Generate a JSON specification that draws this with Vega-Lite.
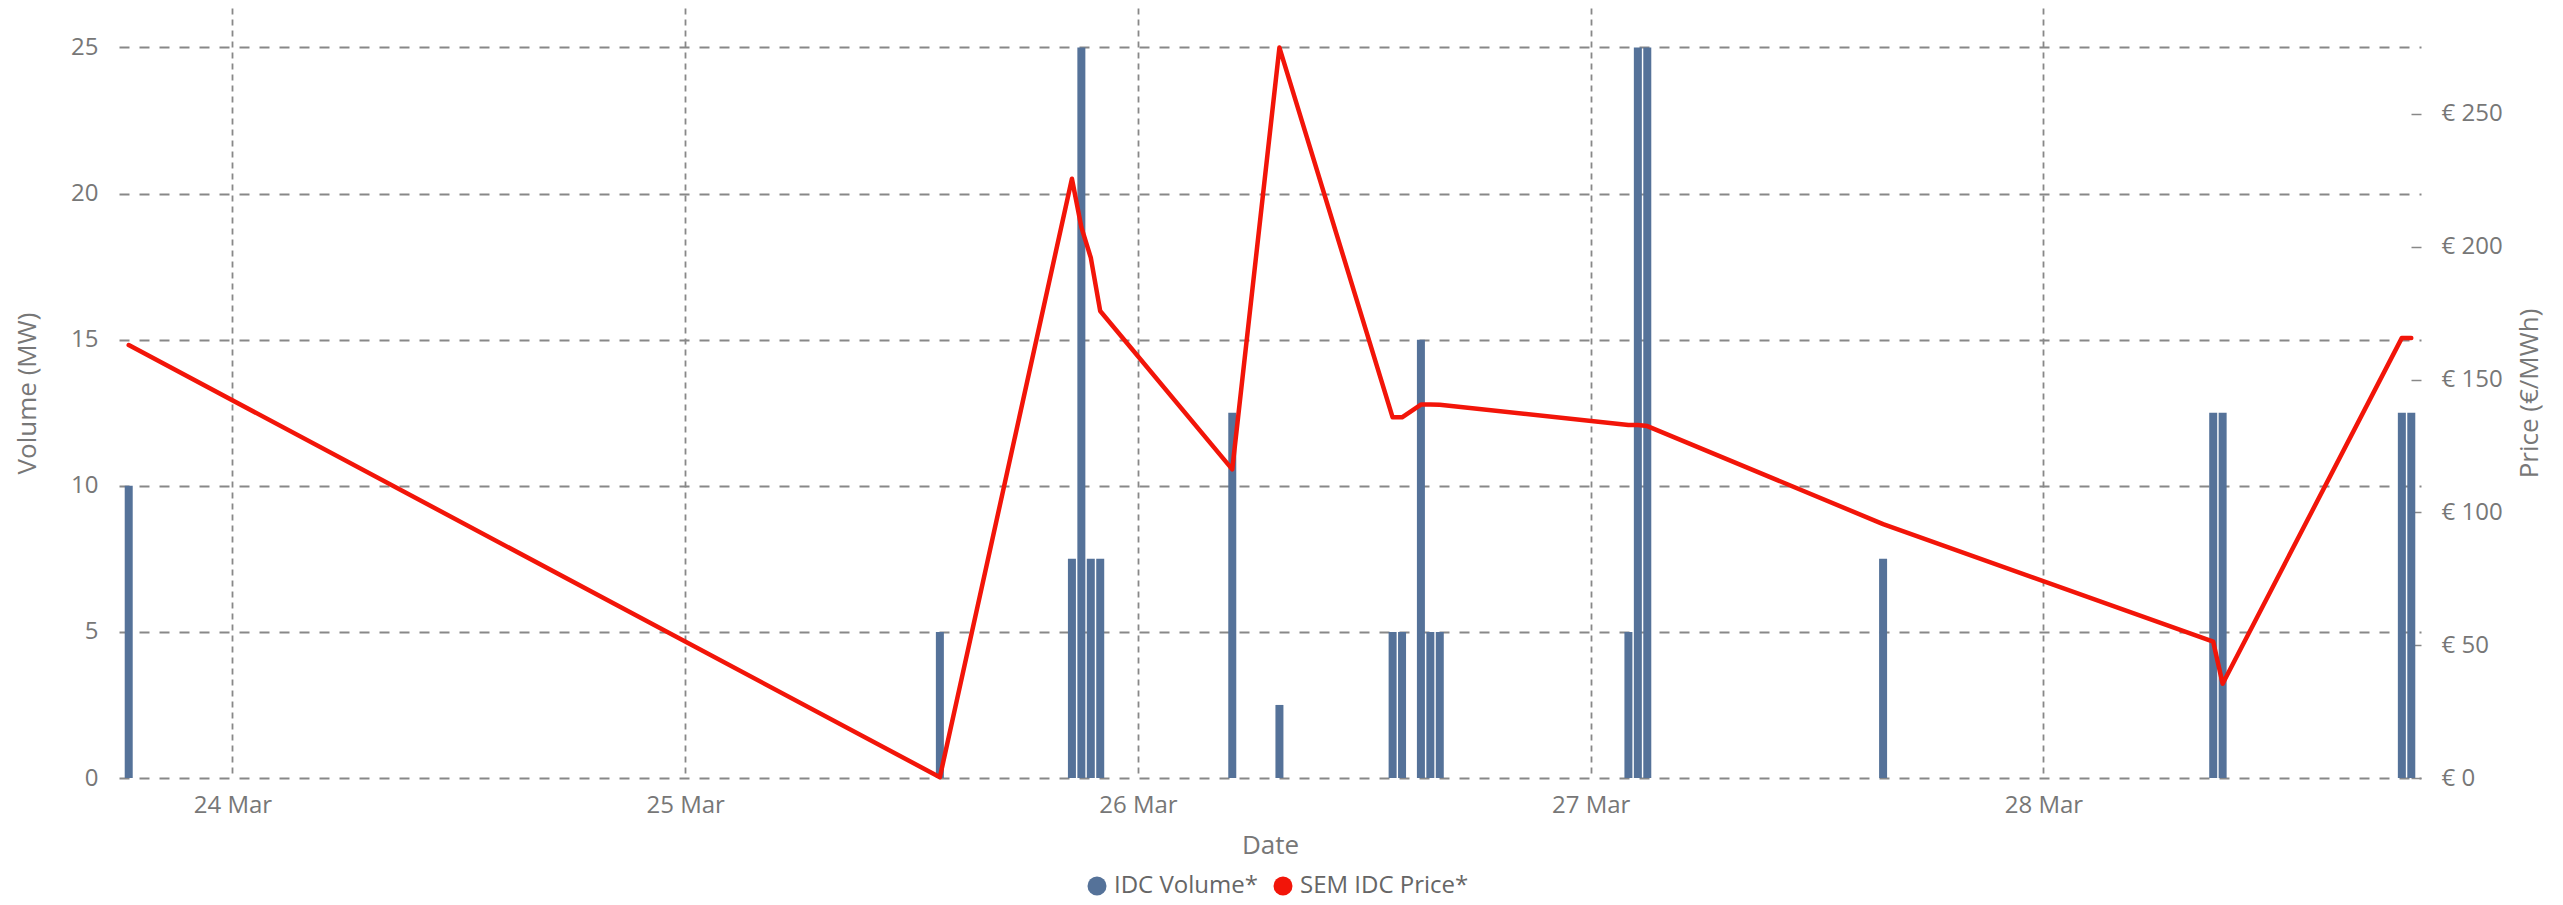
{
  "$schema": "https://vega.github.io/schema/vega-lite/v6.json",
  "autosize": {"type": "none"},
  "padding": {"left": 119, "top": 8, "right": 142, "bottom": 127},
  "width": 2302,
  "height": 770,
  "background": "white",
  "config": {
    "view": {"stroke": null},
    "font": "Open Sans",
    "axis": {
      "labelFont": "Open Sans",
      "titleFont": "Open Sans",
      "labelFontSize": 24,
      "titleFontSize": 26,
      "labelColor": "#777777",
      "titleColor": "#777777",
      "titleFontWeight": "normal"
    }
  },
  "data": {
    "values": [
      {"time": "2025-03-23T18:30:00", "volume": 10, "price": 163.0},
      {"time": "2025-03-25T13:30:00", "volume": 5, "price": 0.3},
      {"time": "2025-03-25T20:30:00", "volume": 7.5, "price": 225.6},
      {"time": "2025-03-25T21:00:00", "volume": 25, "price": 207.4},
      {"time": "2025-03-25T21:30:00", "volume": 7.5, "price": 195.9},
      {"time": "2025-03-25T22:00:00", "volume": 7.5, "price": 175.8},
      {"time": "2025-03-26T05:00:00", "volume": 12.5, "price": 116.2},
      {"time": "2025-03-26T07:30:00", "volume": 2.5, "price": 275.0},
      {"time": "2025-03-26T13:30:00", "volume": 5, "price": 135.8},
      {"time": "2025-03-26T14:00:00", "volume": 5, "price": 135.8},
      {"time": "2025-03-26T15:00:00", "volume": 15, "price": 140.6},
      {"time": "2025-03-26T15:30:00", "volume": 5, "price": 140.6},
      {"time": "2025-03-26T16:00:00", "volume": 5, "price": 140.5},
      {"time": "2025-03-27T02:00:00", "volume": 5, "price": 132.9},
      {"time": "2025-03-27T02:30:00", "volume": 25, "price": 132.9},
      {"time": "2025-03-27T03:00:00", "volume": 25, "price": 132.5},
      {"time": "2025-03-27T15:30:00", "volume": 7.5, "price": 95.6},
      {"time": "2025-03-28T09:00:00", "volume": 12.5, "price": 51.3},
      {"time": "2025-03-28T09:30:00", "volume": 12.5, "price": 35.5},
      {"time": "2025-03-28T19:00:00", "volume": 12.5, "price": 165.7},
      {"time": "2025-03-28T19:30:00", "volume": 12.5, "price": 165.7}
    ]
  },
  "encoding": {
    "x": {
      "field": "time",
      "type": "temporal",
      "scale": {
        "domain": [
          {"year": 2025, "month": 3, "date": 23, "hours": 18, "minutes": 15},
          {"year": 2025, "month": 3, "date": 28, "hours": 19, "minutes": 45}
        ]
      },
      "axis": {
        "format": "%-d %b",
        "tickCount": {"interval": "day", "step": 1},
        "grid": true,
        "gridDash": [6, 5],
        "gridColor": "#888888",
        "gridWidth": 1.8,
        "ticks": false,
        "domain": false,
        "labelPadding": 15,
        "labelFlush": false,
        "title": "Date",
        "titlePadding": 15
      }
    }
  },
  "layer": [
    {
      "mark": {"type": "bar", "size": 8},
      "encoding": {
        "y": {
          "field": "volume",
          "type": "quantitative",
          "scale": {"domain": [0, 26.35], "nice": false},
          "axis": {
            "values": [0, 5, 10, 15, 20, 25],
            "title": "Volume (MW)",
            "grid": true,
            "gridDash": [10, 10],
            "gridColor": "#888888",
            "gridWidth": 1.8,
            "ticks": false,
            "domain": false,
            "labelPadding": 21,
            "titlePadding": 30
          }
        },
        "color": {
          "datum": "IDC Volume*",
          "scale": {"domain": ["IDC Volume*", "SEM IDC Price*"], "range": ["#557299", "#F21509"]},
          "legend": {
            "orient": "none",
            "legendX": 966,
            "legendY": 866,
            "direction": "horizontal",
            "title": null,
            "symbolType": "circle",
            "symbolSize": 361,
            "labelFontSize": 24,
            "labelFont": "Open Sans",
            "labelColor": "#666666",
            "labelOffset": 5,
            "labelLimit": 500,
            "columnPadding": 13,
            "encode": {
              "symbols": {
                "update": {
                  "fill": {"scale": "color", "field": "value"},
                  "fillOpacity": {"value": 1},
                  "strokeWidth": {"value": 0}
                }
              }
            }
          }
        }
      }
    },
    {
      "mark": {"type": "line", "strokeWidth": 4.5, "strokeJoin": "round", "strokeCap": "round"},
      "encoding": {
        "y": {
          "field": "price",
          "type": "quantitative",
          "scale": {"domain": [0, 289.9], "nice": false},
          "axis": {
            "orient": "right",
            "values": [0, 50, 100, 150, 200, 250],
            "labelExpr": "'€ ' + datum.label",
            "grid": false,
            "offset": -10,
            "ticks": true,
            "tickSize": 10,
            "tickColor": "#888888",
            "tickWidth": 1.5,
            "domain": false,
            "labelPadding": 20,
            "title": "Price (€/MWh)",
            "titleAngle": 270,
            "titleBaseline": "top",
            "titlePadding": 14
          }
        },
        "color": {"datum": "SEM IDC Price*"}
      }
    }
  ],
  "resolve": {"scale": {"y": "independent"}}
}
